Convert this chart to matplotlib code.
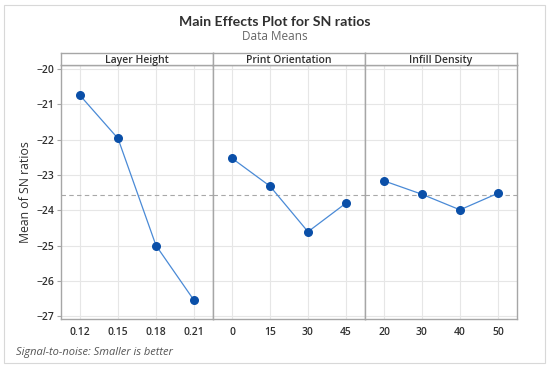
import matplotlib.pyplot as plt
from matplotlib.patches import Rectangle

# factor names and levels
FACTORS = ["Layer Height", "Print Orientation", "Infill Density"]
LAYER_LEVELS = ["0.12", "0.15", "0.18", "0.21"]
ORIENT_LEVELS = ["0", "15", "30", "45"]
INFILL_LEVELS = ["20", "30", "40", "50"]

LAYER_SN = [-20.75, -21.97, -25.00, -26.55]
ORIENT_SN = [-22.53, -23.32, -24.61, -23.80]
INFILL_SN = [-23.17, -23.55, -23.99, -23.52]

GRAND_MEAN = -23.56
Y_TICKS = [-20, -21, -22, -23, -24, -25, -26, -27]

plt.rcParams["font.family"] = ["Open Sans", "DejaVu Sans"]

LINE_COLOR = "#4a8ad6"
MARKER_COLOR = "#0a4fa8"
FRAME_COLOR = "#a6a6a6"
GRID_COLOR = "#e6e6e6"
TEXT_COLOR = "#303030"


def main():
    fig = plt.figure(figsize=(5.5, 3.68), dpi=100)
    fig.patches.append(Rectangle((4 / 550, 5 / 368), 541 / 550, 358 / 368,
                                 transform=fig.transFigure, fill=False,
                                 edgecolor="#d8d8d8", linewidth=0.8))

    left = 61 / 550
    width = 152 / 550
    bottom = 1 - 319 / 368
    height = (319 - 65) / 368
    strip_h = 12 / 368

    levels = [LAYER_LEVELS, ORIENT_LEVELS, INFILL_LEVELS]
    values = [LAYER_SN, ORIENT_SN, INFILL_SN]

    for i, name in enumerate(FACTORS):
        ax = fig.add_axes([left + i * width, bottom, width, height])
        x = list(range(1, len(levels[i]) + 1))
        ax.plot(x, values[i], color=LINE_COLOR, linewidth=0.9, zorder=3)
        ax.scatter(x, values[i], s=30, color=MARKER_COLOR, zorder=4)
        ax.axhline(GRAND_MEAN, color="#a8a8a8", linestyle=(0, (4, 3)),
                   linewidth=0.8, zorder=2)
        ax.set_xlim(0.5, 4.5)
        ax.set_ylim(-27.08, -19.89)
        ax.set_xticks(x)
        ax.set_xticklabels(levels[i], fontsize=7.5, color=TEXT_COLOR,
                           fontweight="semibold")
        ax.set_yticks(Y_TICKS)
        ax.grid(True, color=GRID_COLOR, linewidth=0.8, zorder=0)
        ax.tick_params(axis="x", length=0, pad=6)
        for s in ax.spines.values():
            s.set_color(FRAME_COLOR)
            s.set_linewidth(1.0)
        if i == 0:
            ax.set_yticklabels([str(t).replace("-", "\u2212") for t in Y_TICKS],
                               fontsize=7.5, color=TEXT_COLOR,
                               fontweight="semibold")
            ax.tick_params(axis="y", length=3, color=FRAME_COLOR, pad=2)
            ax.set_ylabel("Mean of SN ratios", fontsize=8.8, color=TEXT_COLOR,
                          labelpad=3)
        else:
            ax.tick_params(axis="y", length=0, labelleft=False)

        sax = fig.add_axes([left + i * width, bottom + height, width, strip_h])
        sax.set_xticks([])
        sax.set_yticks([])
        for s in sax.spines.values():
            s.set_color(FRAME_COLOR)
            s.set_linewidth(1.0)
        sax.text(0.5, 0.4, name, ha="center", va="center", fontsize=7.5,
                 color=TEXT_COLOR, fontweight="semibold",
                 transform=sax.transAxes)

    fig.text(0.5, 1 - 22 / 368, "Main Effects Plot for SN ratios",
             ha="center", va="center", fontsize=10.2, fontweight="bold",
             color=TEXT_COLOR, family=["Lato", "DejaVu Sans"])
    fig.text(0.5, 1 - 37 / 368, "Data Means", ha="center", va="center",
             fontsize=8.5, color="#666666")
    fig.text(16 / 550, 1 - 352 / 368, "Signal-to-noise: Smaller is better",
             ha="left", va="center", fontsize=8, style="italic",
             color="#555555")

    fig.savefig("out.png", dpi=100)
    plt.close(fig)


if __name__ == "__main__":
    main()
